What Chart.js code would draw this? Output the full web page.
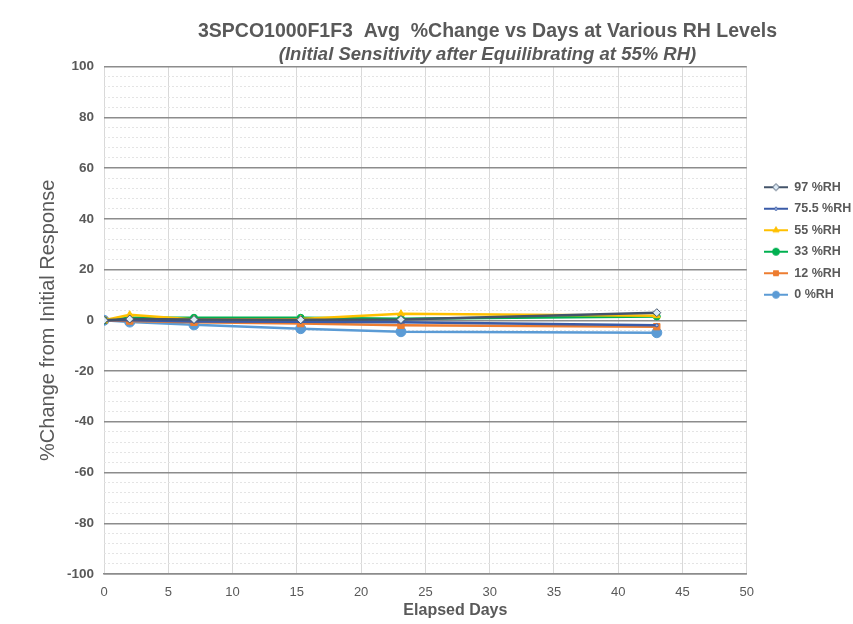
<!DOCTYPE html>
<html>
<head>
<meta charset="utf-8">
<script src="https://cdn.jsdelivr.net/npm/chart.js@4.4.0/dist/chart.umd.min.js"></script>
<style>
    html, body { margin: 0; padding: 0; background: #fff; }
    #wrap { width: 853px; height: 624px; }
</style>
</head>
<body>
<div id="wrap"><canvas id="rhChart"></canvas></div>
<script>
const TITLE = '3SPCO1000F1F3  Avg  %Change vs Days at Various RH Levels';
const SUBTITLE = '(Initial Sensitivity after Equilibrating at 55% RH)';

// elapsed days for each measurement
const days = [0, 2, 7, 15.3, 23.1, 43];

// avg %change per RH level
const seriesNames = ['97 %RH', '75.5 %RH', '55 %RH', '33 %RH', '12 %RH', '0 %RH'];
const rh97 = [0, 0.5, 0.3, 0.2, 0.3, 3.0];
const rh75 = [0, 0, -0.5, -0.6, -0.8, -2.0];
const rh55 = [0, 2.2, 0.3, 0.5, 2.6, 1.8];
const rh33 = [0, 1.0, 1.0, 1.0, 0.6, 1.5];
const rh12 = [0, -0.3, -0.8, -1.3, -2.0, -2.5];
const rh0 = [0, -0.7, -1.8, -3.3, -4.5, -4.9];

const xTicks = [0, 5, 10, 15, 20, 25, 30, 35, 40, 45, 50];
const yMin = -100, yMax = 100, yMajor = 20, yMinor = 4;

const gray = '#595959';

const styles = [
    { color: '#44546A', point: 'rectRot', radius: 4, fill: '#DDEBF7' },
    { color: '#3A5BA8', point: 'circle', radius: 1.5, fill: '#A9C0E6' },
    { color: '#FFC000', point: 'triangle', radius: 4, fill: '#FFC000' },
    { color: '#00B050', point: 'circle', radius: 3.5, fill: '#00B050' },
    { color: '#ED7D31', point: 'rect', radius: 4.5, fill: '#ED7D31' },
    { color: '#5B9BD5', point: 'circle', radius: 5, fill: '#5B9BD5' }
];
const values = [rh97, rh75, rh55, rh33, rh12, rh0];

function toPoints(arr) {
    return arr.map((v, i) => ({ x: days[i], y: v }));
}

// small line+marker icons for the legend
function makeIcon(st) {
    const c = document.createElement('canvas');
    c.width = 24;
    c.height = 10;
    const ctx = c.getContext('2d');
    ctx.strokeStyle = st.color;
    ctx.lineWidth = 2;
    ctx.beginPath();
    ctx.moveTo(0, 5);
    ctx.lineTo(24, 5);
    ctx.stroke();
    ctx.fillStyle = st.fill;
    ctx.strokeStyle = st.color;
    ctx.lineWidth = 1;
    Chart.helpers.drawPoint(ctx, { pointStyle: st.point, radius: Math.min(st.radius, 3.5), borderWidth: 1, rotation: 0 }, 12, 5);
    return c;
}
const icons = styles.map(makeIcon);

const datasets = seriesNames.map((name, i) => ({
    label: name,
    data: toPoints(values[i]),
    borderColor: styles[i].color,
    backgroundColor: styles[i].fill,
    borderWidth: 2.5,
    pointStyle: styles[i].point,
    pointRadius: styles[i].radius,
    pointBorderColor: styles[i].color,
    pointBorderWidth: 1,
    pointBackgroundColor: styles[i].fill,
    tension: 0
}));

// nudge title block, legend and x-axis title to where they sit in the original
const placePlugin = {
    id: 'place',
    afterLayout(chart) {
        chart.boxes.forEach(b => {
            if (b === chart.titleBlock || (b.options && b.options.text === SUBTITLE)) {
                b.left += 122;
            }
        });
        const lg = chart.legend;
        lg.top = 172;
        lg.left = 755;
        lg.right = 853;

        const xs = chart.scales.x;
        if (!xs._shifted) {
            const orig = xs.drawTitle;
            xs.drawTitle = function () {
                this.ctx.save();
                this.ctx.translate(30, 0);
                orig.apply(this, arguments);
                this.ctx.restore();
            };
            xs._shifted = true;
        }
    }
};

const ctx = document.getElementById('rhChart').getContext('2d');
const rhChart = new Chart(ctx, {
    type: 'line',
    data: { datasets: datasets },
    options: {
        responsive: true,
        maintainAspectRatio: false,
        animation: false,
        layout: { padding: { left: 0, right: 0, top: 0, bottom: 0 } },
        plugins: {
            title: {
                display: true,
                text: TITLE,
                color: gray,
                font: { family: 'Liberation Sans', size: 19.5, weight: 'bold' },
                padding: { top: 20, bottom: 0 }
            },
            subtitle: {
                display: true,
                text: SUBTITLE,
                color: gray,
                font: { family: 'Liberation Sans', size: 18.5, weight: 'bold', style: 'italic' },
                padding: { top: 0, bottom: 1 }
            },
            legend: {
                position: 'right',
                align: 'start',
                labels: {
                    color: gray,
                    font: { family: 'Liberation Sans', size: 12.5, weight: 'bold' },
                    usePointStyle: true,
                    pointStyleWidth: 24,
                    padding: 9,
                    generateLabels(chart) {
                        const items = Chart.defaults.plugins.legend.labels.generateLabels(chart);
                        items.forEach((it, i) => { it.pointStyle = icons[i]; });
                        return items;
                    }
                }
            },
            tooltip: { enabled: false }
        },
        scales: {
            x: {
                type: 'linear',
                min: 0,
                max: 50,
                afterBuildTicks(axis) {
                    axis.ticks = xTicks.map(v => ({ value: v }));
                },
                afterFit(axis) { axis.height = 50; },
                ticks: {
                    color: gray,
                    font: { family: 'Liberation Sans', size: 13 },
                    padding: 11
                },
                grid: { color: '#D9D9D9', lineWidth: 1, drawTicks: false },
                border: { color: '#8C8C8C', width: 1.5 },
                title: {
                    display: true,
                    text: 'Elapsed Days',
                    color: gray,
                    font: { family: 'Liberation Sans', size: 16, weight: 'bold' },
                    padding: { top: 0, bottom: 4 }
                }
            },
            y: {
                min: yMin,
                max: yMax,
                afterFit(axis) { axis.width = 104; },
                ticks: {
                    stepSize: yMinor,
                    autoSkip: false,
                    color: gray,
                    font: { family: 'Liberation Sans', size: 13.5, weight: 'bold' },
                    padding: 10,
                    callback: v => (v % yMajor === 0 ? v : '')
                },
                grid: {
                    drawTicks: false,
                    lineWidth: c => (c.tick && c.tick.value % yMajor === 0 ? 1.5 : 1),
                    color: c => (c.tick && c.tick.value % yMajor === 0 ? '#8C8C8C' : '#E4E4E4')
                },
                border: {
                    display: false,
                    dash: c => (c.tick && c.tick.value % yMajor === 0 ? [] : [2, 2])
                },
                title: {
                    display: true,
                    text: '%Change from Initial Response',
                    color: gray,
                    font: { family: 'Liberation Sans', size: 20 },
                    padding: { top: 36, bottom: 0 }
                }
            }
        }
    },
    plugins: [placePlugin]
});
</script>
</body>
</html>
